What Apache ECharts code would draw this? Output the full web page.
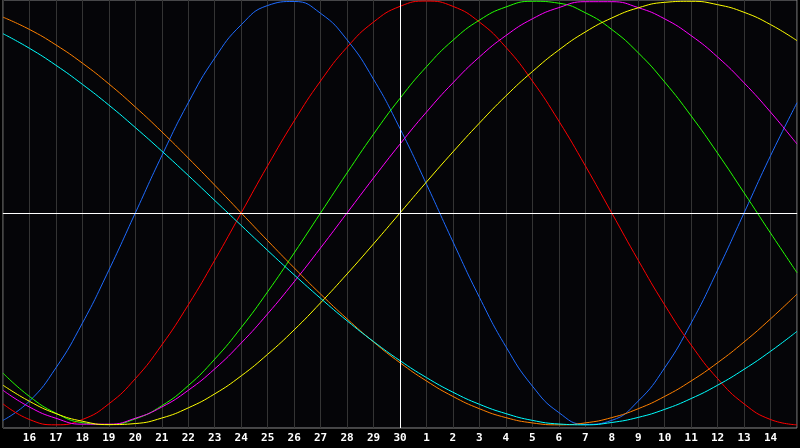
<!DOCTYPE html>
<html>
<head>
<meta charset="utf-8">
<script src="https://cdn.jsdelivr.net/npm/echarts@6/dist/echarts.min.js"></script>
<style>
  html, body { margin: 0; padding: 0; background: #000; }
  #chart { width: 800px; height: 448px; }
</style>
</head>
<body>
<div id="chart"></div>
<script>
// Day labels (15th of one month to 15th of the next)
const dayLabels = ['15','16','17','18','19','20','21','22','23','24','25','26','27','28','29','30',
                   '1','2','3','4','5','6','7','8','9','10','11','12','13','14','15'];
const todayIndex = 15; // day 30

// Cycle values (-1 .. 1), one per day
const blue23 = [-0.979,-0.888,-0.731,-0.520,-0.270,0,0.270,0.520,0.731,0.888,0.979,0.998,0.942,0.817,0.631,0.398,
                0.136,-0.136,-0.398,-0.631,-0.817,-0.942,-0.998,-0.979,-0.888,-0.731,-0.520,-0.270,0,0.270,0.520];
const red28 = [-0.901,-0.975,-1,-0.975,-0.901,-0.782,-0.623,-0.434,-0.223,0,0.223,0.434,0.623,0.782,0.901,0.975,
               1,0.975,0.901,0.782,0.623,0.434,0.223,0,-0.223,-0.434,-0.623,-0.782,-0.901,-0.975,-1];
const green33 = [-0.756,-0.866,-0.945,-0.990,-0.999,-0.972,-0.910,-0.815,-0.690,-0.541,-0.372,-0.189,0,0.189,0.372,0.541,
                 0.690,0.815,0.910,0.972,0.999,0.990,0.945,0.866,0.756,0.618,0.458,0.282,0.095,-0.095,-0.282];
const magenta38 = [-0.837,-0.916,-0.969,-0.997,-0.997,-0.969,-0.916,-0.837,-0.736,-0.614,-0.476,-0.325,-0.165,0,0.165,0.325,
                   0.476,0.614,0.736,0.837,0.916,0.969,0.997,0.997,0.969,0.916,0.837,0.736,0.614,0.476,0.325];
const yellow43 = [-0.813,-0.889,-0.947,-0.983,-0.999,-0.994,-0.968,-0.920,-0.854,-0.769,-0.667,-0.552,-0.424,-0.288,-0.146,0,
                  0.146,0.288,0.424,0.552,0.667,0.769,0.854,0.920,0.968,0.994,0.999,0.983,0.947,0.889,0.813];
const orange48 = [0.924,0.866,0.793,0.707,0.609,0.5,0.383,0.259,0.131,0,-0.131,-0.259,-0.383,-0.5,-0.609,-0.707,
                  -0.793,-0.866,-0.924,-0.966,-0.991,-1,-0.991,-0.966,-0.924,-0.866,-0.793,-0.707,-0.609,-0.5,-0.383];
const cyan53 = [0.846,0.777,0.697,0.607,0.509,0.403,0.292,0.177,0.059,-0.059,-0.177,-0.292,-0.403,-0.509,-0.607,-0.697,
                -0.777,-0.846,-0.903,-0.947,-0.979,-0.996,-1.000,-0.989,-0.965,-0.927,-0.876,-0.813,-0.738,-0.653,-0.559];

const cycles = [
  { name: 'P23', data: blue23, color: '#1e6bff' },
  { name: 'E28', data: red28, color: '#ff0000' },
  { name: 'I33', data: green33, color: '#22ff00' },
  { name: 'M38', data: magenta38, color: '#ff00ff' },
  { name: 'Y43', data: yellow43, color: '#ffff00' },
  { name: 'O48', data: orange48, color: '#ff8000' },
  { name: 'C53', data: cyan53, color: '#00ffff' }
];

const chart = echarts.init(document.getElementById('chart'), null, { renderer: 'canvas' });

const series = cycles.map(c => ({
  name: c.name,
  type: 'line',
  data: c.data,
  smooth: true,
  showSymbol: false,
  symbol: 'none',
  lineStyle: { color: c.color, width: 1 },
  itemStyle: { color: c.color },
  z: 3
}));

series.unshift({
  name: 'ref',
  type: 'line',
  data: [],
  silent: true,
  z: 2,
  markLine: {
    silent: true,
    symbol: 'none',
    label: { show: false },
    lineStyle: { color: '#ffffff', width: 1, type: 'solid' },
    data: [ { yAxis: 0 }, { xAxis: todayIndex } ]
  }
});

chart.setOption({
  animation: false,
  backgroundColor: '#000000',
  grid: {
    left: 0, right: 0, top: 0, bottom: 20,
    show: true,
    backgroundColor: '#050508',
    borderColor: '#8a8a8a',
    borderWidth: 1
  },
  xAxis: {
    type: 'category',
    data: dayLabels,
    boundaryGap: false,
    axisTick: { show: false },
    axisLine: { show: true, lineStyle: { color: '#8a8a8a', width: 1 } },
    axisLabel: {
      interval: 0,
      color: '#ffffff',
      fontFamily: 'DejaVu Sans Mono',
      fontWeight: 'bold',
      fontSize: 11,
      margin: 5,
      formatter: (v, i) => (i === 0 || i === dayLabels.length - 1) ? '' : v
    },
    splitLine: { show: true, interval: 0, lineStyle: { color: '#343434', width: 1 } }
  },
  yAxis: {
    type: 'value',
    min: -1.015,
    max: 1.005,
    show: false,
    splitLine: { show: false }
  },
  series: series
});
</script>
</body>
</html>
